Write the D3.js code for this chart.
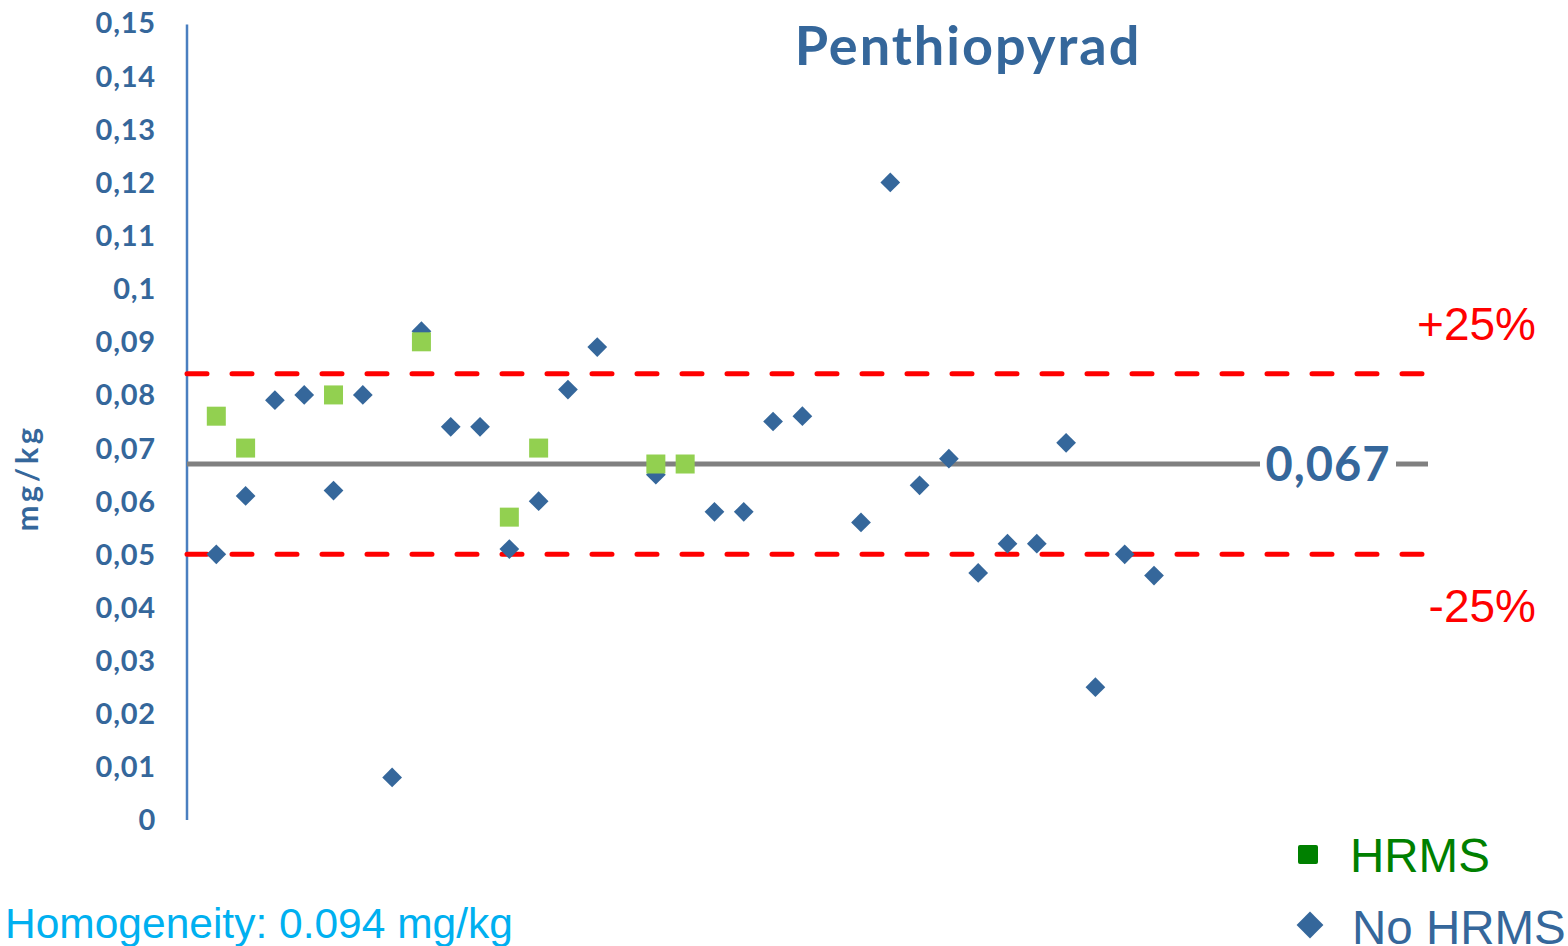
<!DOCTYPE html>
<html>
<head>
<meta charset="utf-8">
<script src="https://cdn.jsdelivr.net/npm/d3@7"></script>
<style>
  body { margin: 0; background: #fff; }
  .gothic { font-family: Lato, "Open Sans", sans-serif; font-weight: bold; }
  .arial { font-family: "Liberation Sans", Arial, sans-serif; }
</style>
</head>
<body>
<script>
// values (lab index -> mg/kg)
var noHrmsIdx = [1, 2, 3, 4, 5, 6, 7, 8, 9, 10, 11, 12, 13, 14, 16, 18, 19, 20, 21, 23, 24, 25, 26, 27, 28, 29, 30, 31, 32, 33];
var noHrmsVal = [0.050, 0.061, 0.079, 0.080, 0.062, 0.080, 0.008, 0.092, 0.074, 0.074, 0.051, 0.060, 0.081, 0.089, 0.065, 0.058, 0.058, 0.075, 0.076, 0.056, 0.120, 0.063, 0.068, 0.0465, 0.052, 0.052, 0.071, 0.025, 0.050, 0.046];
var hrmsIdx = [1, 2, 5, 8, 11, 12, 16, 17];
var hrmsVal = [0.076, 0.070, 0.080, 0.090, 0.057, 0.070, 0.067, 0.067];
var yTicks = [0, 0.01, 0.02, 0.03, 0.04, 0.05, 0.06, 0.07, 0.08, 0.09, 0.1, 0.11, 0.12, 0.13, 0.14, 0.15];
var assigned = 0.067;
var upper = 0.084, lower = 0.050;

var blue = "#35679b";
var W = 1568, H = 946;

var svg = d3.select("body").append("svg")
  .attr("width", W)
  .attr("height", H);

var x = d3.scaleLinear().domain([0, 42.35]).range([187, 1428]);
var y = d3.scaleLinear().domain([0, 0.15]).range([820, 23]);

// y axis labels
var fmt = function(d) { return d === 0 ? "0" : String(+d.toFixed(2)).replace(".", ","); };
svg.append("g").selectAll("text")
  .data(yTicks)
  .enter()
  .append("text")
  .attr("class", "gothic")
  .attr("x", 156)
  .attr("y", function(d) { return y(d); })
  .attr("dy", "0.36em")
  .attr("text-anchor", "end")
  .attr("font-size", 29)
  .attr("letter-spacing", 0.8)
  .attr("fill", blue)
  .text(fmt);

// axis line
svg.append("line")
  .attr("x1", 187).attr("x2", 187)
  .attr("y1", y(0.1497)).attr("y2", y(0))
  .attr("stroke", "#4a7fc0")
  .attr("stroke-width", 2.5);

svg.append("text")
  .attr("class", "gothic")
  .attr("transform", "translate(38,478) rotate(-90)")
  .attr("text-anchor", "middle")
  .attr("font-size", 31)
  .attr("letter-spacing", 3.5)
  .attr("fill", blue)
  .text("mg/kg");

// reference lines
[upper, lower].forEach(function(v) {
  svg.append("line")
    .attr("x1", 187).attr("x2", 1428)
    .attr("y1", y(v)).attr("y2", y(v))
    .attr("stroke", "#ff0000")
    .attr("stroke-width", 5)
    .attr("stroke-linecap", "round")
    .attr("stroke-dasharray", "20,25");
});

svg.append("line")
  .attr("x1", 187).attr("x2", 1260)
  .attr("y1", y(assigned)).attr("y2", y(assigned))
  .attr("stroke", "#808080").attr("stroke-width", 5);
svg.append("line")
  .attr("x1", 1396).attr("x2", 1428)
  .attr("y1", y(assigned)).attr("y2", y(assigned))
  .attr("stroke", "#808080").attr("stroke-width", 5);
svg.append("text")
  .attr("class", "gothic")
  .attr("x", 1328).attr("y", y(assigned))
  .attr("dy", "0.36em")
  .attr("text-anchor", "middle")
  .attr("font-size", 47)
  .attr("letter-spacing", 1)
  .attr("fill", blue)
  .text("0,067");

svg.append("text")
  .attr("class", "arial")
  .attr("x", 1536).attr("y", 340)
  .attr("text-anchor", "end")
  .attr("font-size", 46)
  .attr("fill", "#ff0000")
  .text("+25%");
svg.append("text")
  .attr("class", "arial")
  .attr("x", 1536).attr("y", 622)
  .attr("text-anchor", "end")
  .attr("font-size", 46)
  .attr("fill", "#ff0000")
  .text("-25%");

// points
var diamond = d3.symbol().type(d3.symbolSquare).size(195);
svg.append("g").selectAll("path")
  .data(noHrmsIdx)
  .enter()
  .append("path")
  .attr("d", diamond)
  .attr("transform", function(d, i) { return "translate(" + x(d) + "," + y(noHrmsVal[i]) + ") rotate(45)"; })
  .attr("fill", blue);

svg.append("g").selectAll("rect")
  .data(hrmsIdx)
  .enter()
  .append("rect")
  .attr("x", function(d) { return x(d) - 9.5; })
  .attr("y", function(d, i) { return y(hrmsVal[i]) - 9.5; })
  .attr("width", 19).attr("height", 19)
  .attr("fill", "#92d050");

// title
svg.append("text")
  .attr("class", "gothic")
  .attr("x", 968).attr("y", 65)
  .attr("text-anchor", "middle")
  .attr("font-size", 54)
  .attr("letter-spacing", 2)
  .attr("fill", blue)
  .text("Penthiopyrad");

// legend
svg.append("rect")
  .attr("x", 1298).attr("y", 845).attr("width", 20).attr("height", 19).attr("rx", 2)
  .attr("fill", "#008000");
svg.append("text")
  .attr("class", "arial")
  .attr("x", 1350).attr("y", 872)
  .attr("font-size", 47.5).attr("fill", "#008000")
  .text("HRMS");
svg.append("path")
  .attr("d", d3.symbol().type(d3.symbolSquare).size(360))
  .attr("transform", "translate(1310,925) rotate(45)")
  .attr("fill", blue);
svg.append("text")
  .attr("class", "arial")
  .attr("x", 1352).attr("y", 944)
  .attr("font-size", 47.5).attr("fill", blue)
  .text("No HRMS");

svg.append("text")
  .attr("class", "arial")
  .attr("x", 5).attr("y", 938)
  .attr("font-size", 42.5).attr("fill", "#00b0f0")
  .text("Homogeneity: 0.094 mg/kg");
</script>
</body>
</html>
